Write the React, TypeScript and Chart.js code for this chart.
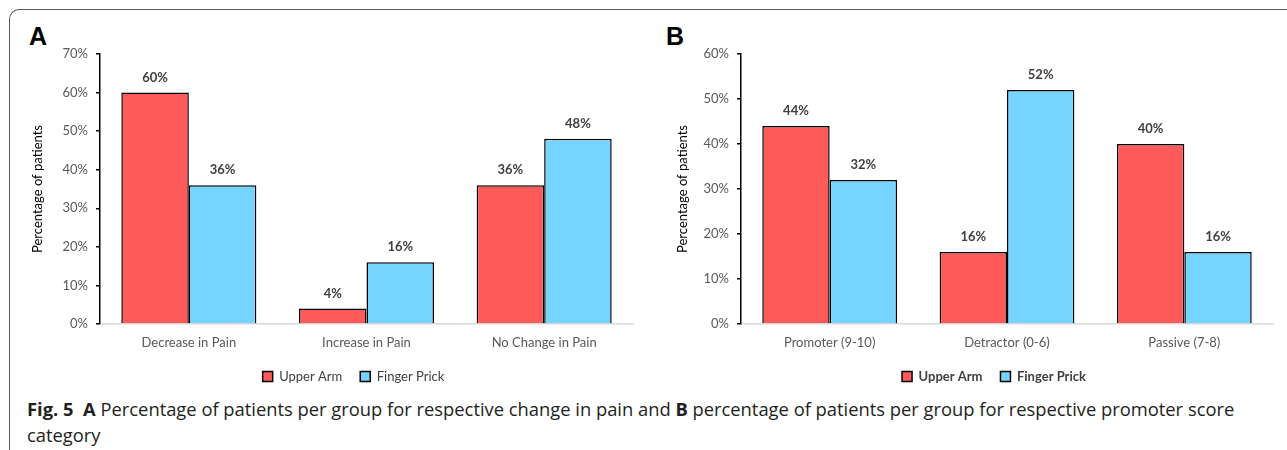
import React, { useEffect, useRef } from 'react';
import { Chart, registerables } from 'chart.js';

Chart.register(...registerables);

// ---- data ----
const seriesNames = ['Upper Arm', 'Finger Prick'];
const seriesColors = ['#FF5A5A', '#75D5FF'];

const painCategories = ['Decrease in Pain', 'Increase in Pain', 'No Change in Pain'];
const painUpperArm = [60, 4, 36];
const painFingerPrick = [36, 16, 48];
const painAxisMax = 70;

const promoterCategories = ['Promoter (9-10)', 'Detractor (0-6)', 'Passive (7-8)'];
const promoterUpperArm = [44, 16, 40];
const promoterFingerPrick = [32, 52, 16];
const promoterAxisMax = 60;

const yAxisTitle = 'Percentage of patients';

const FONT = 'Lato, "Open Sans", sans-serif';
const CAPTION_FONT = '"Open Sans", Lato, sans-serif';

const valueLabels = {
  id: 'valueLabels',
  afterDatasetsDraw(chart: any) {
    const { ctx } = chart;
    ctx.save();
    ctx.font = `bold 13px ${FONT}`;
    ctx.fillStyle = '#404040';
    ctx.textAlign = 'center';
    ctx.textBaseline = 'alphabetic';
    chart.data.datasets.forEach((ds: any, i: number) => {
      const meta = chart.getDatasetMeta(i);
      meta.data.forEach((bar: any, j: number) => {
        ctx.fillText(`${ds.data[j]}%`, bar.x, bar.y - 11);
      });
    });
    ctx.restore();
  },
};

const legendShift = {
  id: 'legendShift',
  afterLayout(chart: any, _args: any, opts: any) {
    const lg = chart.legend;
    const dx = (opts && opts.dx) || 0;
    if (lg && dx) {
      lg.left += dx;
      lg.right += dx;
    }
  },
};

type PanelProps = {
  categories: string[];
  upper: number[];
  finger: number[];
  axisMax: number;
  left: number;
  width: number;
  yScaleWidth: number;
  padRight: number;
  legendDx: number;
  legendBold: boolean;
};

function BarPanel(p: PanelProps) {
  const ref = useRef<HTMLCanvasElement>(null);
  useEffect(() => {
    if (!ref.current) return;
    const chart = new Chart(ref.current, {
      type: 'bar',
      data: {
        labels: p.categories,
        datasets: [
          {
            label: seriesNames[0],
            data: p.upper,
            backgroundColor: seriesColors[0],
            borderColor: '#000000',
            borderWidth: 1.5,
          },
          {
            label: seriesNames[1],
            data: p.finger,
            backgroundColor: seriesColors[1],
            borderColor: '#000000',
            borderWidth: 1.5,
          },
        ],
      },
      options: {
        responsive: false,
        animation: false,
        devicePixelRatio: 1,
        layout: { padding: { top: 24, right: p.padRight, left: 0, bottom: 0 } },
        datasets: { bar: { categoryPercentage: 0.76, barPercentage: 1 } },
        scales: {
          x: {
            grid: { display: false, drawTicks: false },
            border: { display: true, color: '#D9D9D9', width: 1.5 },
            ticks: { color: '#595959', font: { family: FONT, size: 13 }, padding: 11 },
            afterFit: (s: any) => {
              s.height = 28;
            },
          },
          y: {
            min: 0,
            max: p.axisMax,
            grid: {
              display: true,
              drawOnChartArea: false,
              drawTicks: true,
              tickLength: 4,
              color: '#000000',
              lineWidth: 1.5,
            },
            border: { display: true, color: '#000000', width: 1.5 },
            ticks: {
              stepSize: 10,
              color: '#595959',
              padding: 8,
              font: { family: FONT, size: 13 },
              callback: (v: any) => `${v}%`,
            },
            title: {
              display: true,
              text: yAxisTitle,
              color: '#000000',
              font: { family: FONT, size: 13 },
              padding: { top: 20, bottom: 0 },
            },
            afterFit: (s: any) => {
              s.width = p.yScaleWidth;
            },
          },
        },
        plugins: {
          legend: {
            position: 'bottom',
            labels: {
              boxWidth: 10,
              boxHeight: 10,
              padding: 18,
              color: '#404040',
              font: { family: FONT, size: 13, weight: p.legendBold ? 'bold' : 'normal' },
            },
          },
          tooltip: { enabled: false },
          legendShift: { dx: p.legendDx },
        } as any,
      },
      plugins: [valueLabels, legendShift],
    });
    return () => chart.destroy();
  }, []);
  return (
    <canvas
      ref={ref}
      width={p.width}
      height={363}
      style={{ position: 'absolute', left: p.left, top: 30, width: p.width, height: 363 }}
    />
  );
}

export default function App() {
  return (
    <div
      style={{
        position: 'absolute',
        left: 0,
        top: 0,
        width: 1287,
        height: 450,
        overflow: 'hidden',
        background: '#ffffff',
      }}
    >
      <div
        style={{
          position: 'absolute',
          left: 9,
          top: 9,
          width: 1400,
          height: 460,
          borderTop: '1.5px solid #5a5a5a',
          borderLeft: '1.5px solid #5a5a5a',
          borderTopLeftRadius: 10,
          boxSizing: 'border-box',
        }}
      />
      <div
        style={{
          position: 'absolute',
          left: 29,
          top: 24,
          font: `bold 25px "Liberation Sans", Arial, sans-serif`,
          color: '#000',
          lineHeight: '25px',
        }}
      >
        A
      </div>
      <div
        style={{
          position: 'absolute',
          left: 666,
          top: 24,
          font: `bold 25px "Liberation Sans", Arial, sans-serif`,
          color: '#000',
          lineHeight: '25px',
        }}
      >
        B
      </div>
      <BarPanel
        categories={painCategories}
        upper={painUpperArm}
        finger={painFingerPrick}
        axisMax={painAxisMax}
        left={10}
        width={640}
        yScaleWidth={90}
        padRight={17}
        legendDx={32}
        legendBold={false}
      />
      <BarPanel
        categories={promoterCategories}
        upper={promoterUpperArm}
        finger={promoterFingerPrick}
        axisMax={promoterAxisMax}
        left={655}
        width={632}
        yScaleWidth={86}
        padRight={14}
        legendDx={30}
        legendBold={true}
      />
      <div
        style={{
          position: 'absolute',
          left: 27,
          top: 396,
          font: `18.35px ${CAPTION_FONT}`,
          lineHeight: '26px',
          color: '#231f20',
          whiteSpace: 'nowrap',
        }}
      >
        <b>Fig. 5</b>&nbsp;&nbsp;<b>A</b> Percentage of patients per group for respective change in pain and{' '}
        <b>B</b> percentage of patients per group for respective promoter score
        <br />
        category
      </div>
    </div>
  );
}
